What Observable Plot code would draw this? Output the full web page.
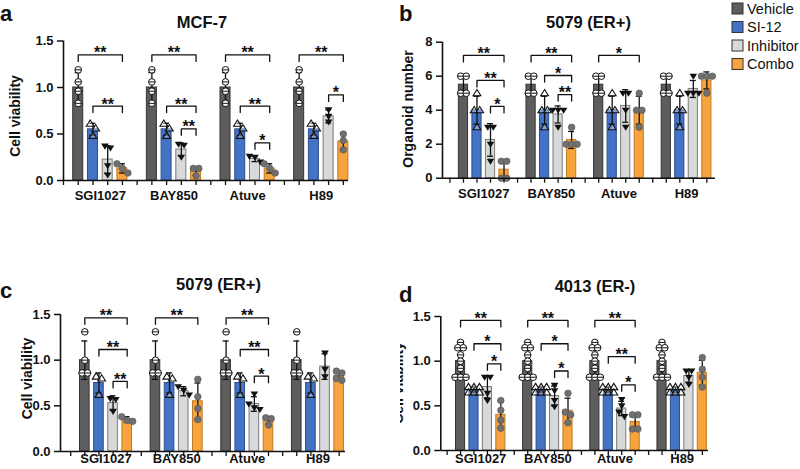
<!DOCTYPE html>
<html><head><meta charset="utf-8">
<script src="https://cdn.jsdelivr.net/npm/d3@7"></script>
<script src="https://cdn.jsdelivr.net/npm/@observablehq/plot@0.6"></script>
<style>
html,body{margin:0;padding:0;background:#fff;}
#root{position:relative;width:800px;height:469px;overflow:hidden;font-family:"Liberation Sans",Arial,Helvetica,sans-serif;background:#fff;}
.panel{position:absolute;}
#overlay{position:absolute;left:0;top:0;pointer-events:none;}
</style></head><body><div id="root"></div>
<script>
// ---------- categories ----------
const groups = ["SGI1027", "BAY850", "Atuve", "H89"];
const treatments = ["Vehicle", "SI-12", "Inhibitor", "Combo"];
const fills = ["#5d5d5d", "#4472c4", "#d9d9d9", "#f7a33e"];
const strokes = ["#333333", "#2c4f8f", "#7a7a7a", "#c27a22"];

// ---------- panel a: MCF-7, cell viability ----------
const aMeans = [[1.00, 0.55, 0.225, 0.13], [1.00, 0.55, 0.333, 0.097], [1.00, 0.55, 0.233, 0.13], [1.00, 0.55, 0.69, 0.42]];
const aSDs = [[0.16, 0.065, 0.15, 0.05], [0.16, 0.065, 0.07, 0.04], [0.16, 0.065, 0.03, 0.05], [0.16, 0.065, 0.07, 0.09]];
const aPoints = [
  [[1.19, 1.06, 0.96, 0.83], [0.61, 0.56, 0.48], [0.37, 0.35, 0.16, 0.06], [0.18, 0.13, 0.08]],
  [[1.19, 1.06, 0.96, 0.83], [0.61, 0.56, 0.48], [0.39, 0.38, 0.25], [0.13, 0.13, 0.05]],
  [[1.19, 1.06, 0.96, 0.83], [0.61, 0.56, 0.48], [0.26, 0.25, 0.20], [0.18, 0.13, 0.08]],
  [[1.19, 1.06, 0.96, 0.83], [0.61, 0.56, 0.48], [0.76, 0.69, 0.63], [0.50, 0.43, 0.33]]];
const aBrackets = [[0, 0, 3, 1.35, "**"], [0, 1, 3, 0.80, "**"], [1, 0, 3, 1.35, "**"], [1, 1, 3, 0.80, "**"], [1, 2, 3, 0.556, "**"],
  [2, 0, 3, 1.35, "**"], [2, 1, 3, 0.80, "**"], [2, 2, 3, 0.405, "*"], [3, 0, 3, 1.35, "**"], [3, 2, 3, 0.92, "*"]];
const aTicks = [0, 0.5, 1, 1.5];

// ---------- panel b: 5079 (ER+), organoid number ----------
const bMeans = [[5.5, 4, 2.25, 0.5], [5.5, 4, 3.75, 2.25], [5.5, 4, 4.25, 4], [5.5, 4, 5.25, 5.75]];
const bSDs = [[0.58, 0.82, 0.96, 0.58], [0.58, 0.82, 0.5, 0.5], [0.58, 0.82, 0.96, 0.82], [0.58, 0.82, 0.5, 0.5]];
const bPoints = [
  [[6, 6, 5, 5], [5, 4, 4, 3], [3, 3, 2, 1], [1, 1, 0, 0]],
  [[6, 6, 5, 5], [5, 4, 4, 3], [4, 4, 4, 3], [3, 2, 2, 2]],
  [[6, 6, 5, 5], [5, 4, 4, 3], [5, 5, 4, 3], [5, 4, 4, 3]],
  [[6, 6, 5, 5], [5, 4, 4, 3], [6, 5, 5, 5], [6, 6, 6, 5]]];
const bBrackets = [[0, 0, 3, 7.22, "**"], [0, 1, 3, 5.75, "**"], [0, 2, 3, 4.22, "*"], [1, 0, 3, 7.22, "**"], [1, 1, 3, 6.04, "*"],
  [1, 2, 3, 4.92, "**"], [2, 0, 3, 7.22, "*"]];
const bTicks = [0, 2, 4, 6, 8];

// ---------- panel c: 5079 (ER+), cell viability ----------
const cMeans = [[1.0, 0.75, 0.53, 0.35], [1.0, 0.75, 0.66, 0.55], [1.0, 0.75, 0.52, 0.34], [1.0, 0.75, 0.93, 0.83]];
const cSDs = [[0.21, 0.11, 0.08, 0.03], [0.21, 0.11, 0.05, 0.2], [0.21, 0.11, 0.08, 0.04], [0.21, 0.11, 0.14, 0.04]];
const cPoints = [
  [[1.31, 1.0, 0.86, 0.86], [0.82, 0.80, 0.62], [0.58, 0.57, 0.44], [0.38, 0.34, 0.33]],
  [[1.31, 1.0, 0.86, 0.86], [0.82, 0.80, 0.62], [0.71, 0.67, 0.62], [0.79, 0.60, 0.47, 0.35]],
  [[1.31, 1.0, 0.86, 0.86], [0.82, 0.80, 0.62], [0.63, 0.52, 0.48, 0.46], [0.37, 0.36, 0.29]],
  [[1.31, 1.0, 0.86, 0.86], [0.82, 0.80, 0.62], [1.08, 0.90, 0.82], [0.88, 0.86, 0.80, 0.78]]];
const cBrackets = [[0, 0, 3, 1.464, "**"], [0, 1, 3, 1.117, "**"], [0, 2, 3, 0.767, "**"], [1, 0, 3, 1.464, "**"],
  [2, 0, 3, 1.464, "**"], [2, 1, 3, 1.117, "**"], [2, 2, 3, 0.825, "*"]];

// ---------- panel d: 4013 (ER-), cell viability ----------
const dMeans = [[1.0, 0.68, 0.71, 0.40], [1.0, 0.68, 0.61, 0.445], [1.0, 0.68, 0.47, 0.32], [1.0, 0.68, 0.835, 0.87]];
const dSDs = [[0.15, 0.03, 0.12, 0.15], [0.15, 0.03, 0.11, 0.14], [0.15, 0.03, 0.08, 0.08], [0.15, 0.03, 0.07, 0.14]];
const dVeh = [1.21, 1.15, 1.15, 1.07, 1.0, 0.92, 0.82, 0.82, 0.82];
const dSi = [0.71, 0.71, 0.71, 0.65, 0.65, 0.65];
const dPoints = [
  [dVeh, dSi, [0.82, 0.82, 0.64, 0.56], [0.56, 0.45, 0.34, 0.25]],
  [dVeh, dSi, [0.73, 0.67, 0.56, 0.49], [0.64, 0.43, 0.40, 0.31]],
  [dVeh, dSi, [0.57, 0.50, 0.43, 0.38], [0.40, 0.40, 0.24, 0.24]],
  [dVeh, dSi, [0.89, 0.89, 0.82, 0.74], [1.04, 0.91, 0.82, 0.71]]];
const dBrackets = [[0, 0, 3, 1.456, "**"], [0, 1, 3, 1.195, "*"], [0, 2, 3, 0.97, "*"], [1, 0, 3, 1.456, "**"], [1, 1, 3, 1.195, "*"],
  [1, 2, 3, 0.89, "*"], [2, 0, 3, 1.456, "**"], [2, 1, 3, 1.05, "**"], [2, 2, 3, 0.735, "*"]];

// ---------- symbols ----------
const symVehicle = {draw(ctx, size) { const r = Math.sqrt(size / Math.PI); ctx.moveTo(r, 0); ctx.arc(0, 0, r, 0, 2 * Math.PI); ctx.moveTo(-r, 0); ctx.lineTo(r, 0); }};
const symUp = {draw(ctx, size) { const r = Math.sqrt(size / Math.PI) * 1.15; ctx.moveTo(-r, r * 0.65); ctx.lineTo(r, r * 0.65); ctx.lineTo(0, -r * 0.95); ctx.closePath(); }};
const symDown = {draw(ctx, size) { const r = Math.sqrt(size / Math.PI) * 1.15; ctx.moveTo(-r, -r * 0.65); ctx.lineTo(r, -r * 0.65); ctx.lineTo(0, r * 0.95); ctx.closePath(); }};
const dotStyles = [
  {symbol: symVehicle, fill: "white", stroke: "#111", strokeWidth: 1, r: 3.3},
  {symbol: symUp, fill: "white", fillOpacity: 0.35, stroke: "#111", strokeWidth: 1.1, r: 3.4},
  {symbol: symDown, fill: "#111", r: 3.3},
  {symbol: "circle", fill: "#707070", stroke: "#555", strokeWidth: 0.6, r: 3.3}];

const FONT = '"Liberation Sans", Arial, Helvetica, sans-serif';
const root = document.getElementById("root");

function makePanel(cfg) {
  const {means, sds, points, brackets, yMax, yTicks, yFormat, L, T, W, H, ml, mr, mt, mb, xStart, xEnd, labelDy} = cfg;
  const step = (W - ml - mr) / (xEnd - xStart);
  const unitPerPx = yMax / (H - mt - mb);
  const slotOf = (gi, ti) => 1 + gi * 5 + ti;
  const bars = [], pts = [];
  groups.forEach((g, gi) => treatments.forEach((t, ti) => {
    const slot = slotOf(gi, ti);
    bars.push({group: g, treatment: t, ti, slot, mean: means[gi][ti], sd: sds[gi][ti]});
    const vals = points[gi][ti].slice().sort((a, b) => b - a);
    const clusters = [];
    for (const v of vals) {
      const c = clusters[clusters.length - 1];
      if (c && (c[c.length - 1] - v) / unitPerPx < 5) c.push(v); else clusters.push([v]);
    }
    for (const c of clusters) c.forEach((v, i) => pts.push({ti, value: v, x: slot + (i - (c.length - 1) / 2) * 5.5 / step}));
  }));
  const leg = 6.5 * unitPerPx;
  const br = brackets.map(([gi, a, b, y, label], id) => ({id, x1: slotOf(gi, a), x2: slotOf(gi, b), y, label}));
  const brLines = br.flatMap(d => [
    {id: d.id, x: d.x1, y: d.y - leg}, {id: d.id, x: d.x1, y: d.y},
    {id: d.id, x: d.x2, y: d.y}, {id: d.id, x: d.x2, y: d.y - leg}]);
  const capHalf = 3 / step;
  const inset = step * 0.16;
  const marks = [];
  treatments.forEach((t, ti) => {
    marks.push(Plot.rect(bars.filter(d => d.ti === ti), {
      x1: d => d.slot - 0.5, x2: d => d.slot + 0.5, y1: () => 0, y2: "mean",
      insetLeft: inset, insetRight: inset, fill: fills[ti], stroke: strokes[ti], strokeWidth: 1}));
  });
  marks.push(
    Plot.ruleX(bars, {x: "slot", y1: d => Math.max(0, d.mean - d.sd), y2: d => d.mean + d.sd, stroke: "#111", strokeWidth: 1.3}),
    Plot.ruleY(bars, {x1: d => d.slot - capHalf, x2: d => d.slot + capHalf, y: d => d.mean + d.sd, stroke: "#111", strokeWidth: 1.3}),
    Plot.ruleY(bars.filter(d => d.mean - d.sd > 0), {x1: d => d.slot - capHalf, x2: d => d.slot + capHalf, y: d => d.mean - d.sd, stroke: "#111", strokeWidth: 1.3})
  );
  dotStyles.forEach((s, ti) => marks.push(Plot.dot(pts.filter(p => p.ti === ti), {x: "x", y: "value", ...s})));
  marks.push(
    Plot.line(brLines, {x: "x", y: "y", z: "id", stroke: "#111", strokeWidth: 1.3}),
    Plot.text(br, {x: d => (d.x1 + d.x2) / 2, y: "y", text: "label", lineAnchor: "bottom", dy: 3.5, fontSize: 16, fontWeight: "bold", fill: "#111"}),
    Plot.ruleY([0], {stroke: "#111", strokeWidth: 1.6}),
    Plot.ruleX([xStart], {y1: () => 0, y2: () => yMax, stroke: "#111", strokeWidth: 1.6}),
    Plot.axisY({ticks: yTicks, tickFormat: yFormat, tickSize: 6, tickPadding: 4, strokeWidth: 1.5, fontSize: 13, fontWeight: "bold", label: null}),
    Plot.axisX({ticks: d3.range(0, 20), tickSize: 5, tickFormat: () => "", strokeWidth: 1.3, label: null}),
    Plot.text(groups, {x: (g, i) => slotOf(i, 0) + 1.5, frameAnchor: "bottom", lineAnchor: "top", dy: labelDy, fontSize: 13, fontWeight: "bold", fill: "#111"})
  );
  const svg = Plot.plot({
    width: W, height: H, marginLeft: ml, marginRight: mr, marginTop: mt, marginBottom: mb,
    x: {domain: [xStart, xEnd]}, y: {domain: [0, yMax]},
    style: {fontFamily: FONT, fontSize: "13px", fontWeight: "bold", background: "transparent", color: "#111", overflow: "visible"},
    marks
  });
  const div = document.createElement("div");
  div.className = "panel";
  div.style.left = L + "px"; div.style.top = T + "px"; div.style.width = W + "px"; div.style.height = H + "px";
  div.appendChild(svg);
  root.appendChild(div);
}

const f1 = d => d.toFixed(1);
const f0 = d => d.toFixed(0);
makePanel({means: aMeans, sds: aSDs, points: aPoints, brackets: aBrackets, yMax: 1.5, yTicks: aTicks, yFormat: f1,
  L: 0, T: 0, W: 400, H: 232, ml: 63, mr: 52, mt: 40.5, mb: 52, xStart: 0, xEnd: 19.35, labelDy: 10.5});
makePanel({means: bMeans, sds: bSDs, points: bPoints, brackets: bBrackets, yMax: 8, yTicks: bTicks, yFormat: f0,
  L: 400, T: 0, W: 400, H: 232, ml: 42, mr: 85, mt: 41.7, mb: 54.3, xStart: -0.55, xEnd: 19.64, labelDy: 10.6});
makePanel({means: cMeans, sds: cSDs, points: cPoints, brackets: cBrackets, yMax: 1.5, yTicks: aTicks, yFormat: f1,
  L: 0, T: 232, W: 400, H: 237, ml: 60, mr: 55, mt: 82, mb: 18, xStart: -0.72, xEnd: 19.45, labelDy: 2});
makePanel({means: dMeans, sds: dSDs, points: dPoints, brackets: dBrackets, yMax: 1.5, yTicks: aTicks, yFormat: f1,
  L: 400, T: 232, W: 400, H: 237, ml: 40.3, mr: 92, mt: 84, mb: 19, xStart: -0.47, xEnd: 19.46, labelDy: 3});

// ---------- overlay text: panel letters, titles, axis titles, legend ----------
const panelLetters = [["a", 0, 21], ["b", 399, 21], ["c", 0, 298], ["d", 399, 302]];
const titles = [["MCF-7", 202, 28], ["5079 (ER+)", 588.5, 28], ["5079 (ER+)", 218.5, 290], ["4013 (ER-)", 595, 291.5]];
const yTitles = [["Cell viability", 20, 116, false], ["Organoid number", 413, 109, false], ["Cell viability", 31.5, 378.5, false], ["Cell viability", 403, 383, true]];
const NS = "http://www.w3.org/2000/svg";
const ov = document.createElementNS(NS, "svg");
ov.setAttribute("id", "overlay"); ov.setAttribute("width", 800); ov.setAttribute("height", 469);
ov.setAttribute("font-family", FONT);
ov.innerHTML = '<defs><clipPath id="clipD"><rect x="400" y="232" width="400" height="237"/></clipPath></defs>';
function addText(txt, attrs) {
  const t = document.createElementNS(NS, "text");
  for (const k in attrs) t.setAttribute(k, attrs[k]);
  t.textContent = txt; ov.appendChild(t); return t;
}
panelLetters.forEach(([s, x, y]) => addText(s, {x, y, "font-size": 22, "font-weight": "bold", fill: "#111"}));
titles.forEach(([s, x, y]) => addText(s, {x, y, "font-size": 16.5, "font-weight": "bold", "text-anchor": "middle", fill: "#111"}));
yTitles.forEach(([s, x, y, clip]) => {
  const a = {transform: `translate(${x},${y}) rotate(-90)`, "font-size": 14, "font-weight": "bold", "text-anchor": "middle", fill: "#111"};
  if (clip) {
    const g = document.createElementNS(NS, "g"); g.setAttribute("clip-path", "url(#clipD)"); ov.appendChild(g);
    const t = addText(s, a); g.appendChild(t);
  } else addText(s, a);
});
treatments.forEach((t, i) => {
  const top = 3 + i * 18.5;
  const r = document.createElementNS(NS, "rect");
  r.setAttribute("x", 732); r.setAttribute("y", top); r.setAttribute("width", 11); r.setAttribute("height", 11);
  r.setAttribute("fill", fills[i]); r.setAttribute("stroke", "#333"); r.setAttribute("stroke-width", 1);
  ov.appendChild(r);
  addText(t, {x: 747, y: top + 10.5, "font-size": 14.5, fill: "#111"});
});
root.appendChild(ov);
</script>
</body></html>
